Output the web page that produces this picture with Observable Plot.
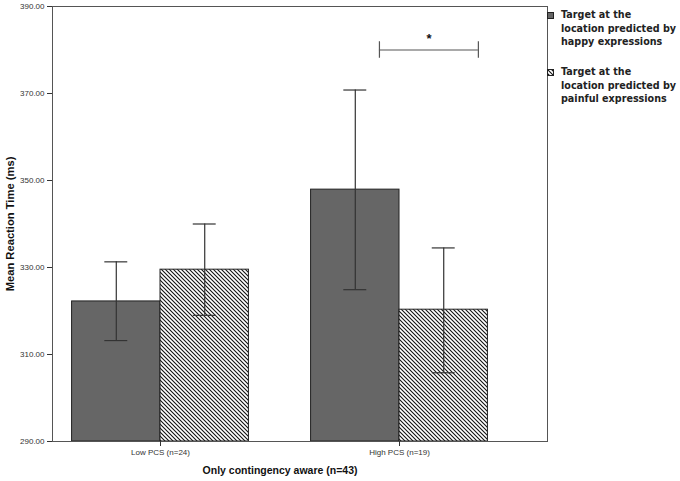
<!DOCTYPE html>
<html>
<head>
<meta charset="utf-8">
<script src="https://cdn.jsdelivr.net/npm/d3@7"></script>
<script src="https://cdn.jsdelivr.net/npm/@observablehq/plot@0.6"></script>
<style>
  body { margin: 0; background: #fff; }
  #wrap { position: relative; width: 680px; height: 481px; }
  .leg { position: absolute; left: 547px; font-family: "DejaVu Sans", Verdana, sans-serif; font-weight: bold; font-size: 9.6px; line-height: 13.5px; color: #222; }
  .leg .sw { position: absolute; left: 0; width: 7px; height: 7px; }
  .leg .tx { position: absolute; left: 14px; white-space: nowrap; }
</style>
</head>
<body>
<div id="wrap"></div>
<script>
// ---- data ----
const groups = ["Low PCS (n=24)", "High PCS (n=19)"];
const seriesNames = [
  "Target at the location predicted by happy expressions",
  "Target at the location predicted by painful expressions"
];
const legendLines = [
  ["Target at the", "location predicted by", "happy expressions"],
  ["Target at the", "location predicted by", "painful expressions"]
];
const happyMeans = [322.2, 347.9];
const painfulMeans = [329.5, 320.3];
const happyLow = [313.2, 324.9];
const happyHigh = [331.3, 370.8];
const painfulLow = [319.0, 305.8];
const painfulHigh = [340.0, 334.5];
const yTicks = [290, 310, 330, 350, 370, 390];
const yLabel = "Mean Reaction Time (ms)";
const xLabel = "Only contingency aware (n=43)";
const sigLabel = "*";
const sigValue = 380;

// ---- layout ----
const W = 0.37;          // bar width in group units
const capW = 0.048;      // half cap width
const sigX = [0.916, 1.33];

const rows = [];
groups.forEach((g, gi) => {
  rows.push({gi, si: 0, mean: happyMeans[gi], lo: happyLow[gi], hi: happyHigh[gi]});
  rows.push({gi, si: 1, mean: painfulMeans[gi], lo: painfulLow[gi], hi: painfulHigh[gi]});
});
rows.forEach(r => {
  r.x1 = r.gi + (r.si - 1) * W;
  r.x2 = r.gi + r.si * W;
  r.c = r.gi + (r.si - 0.5) * W;
});

const plot = Plot.plot({
  width: 680,
  height: 481,
  marginLeft: 52,
  marginRight: 133,
  marginTop: 6,
  marginBottom: 40,
  style: {fontFamily: "'Liberation Sans', Arial, sans-serif", background: "white", color: "#333"},
  x: {type: "linear", domain: [-0.4519, 1.6192], axis: null},
  y: {domain: [290, 390], axis: null},
  marks: [
    Plot.rectY(rows, {
      x1: "x1", x2: "x2", y1: 290, y2: "mean",
      fill: d => d.si === 0 ? "#666666" : "url(#hatch)",
      stroke: "#222", strokeWidth: 1
    }),
    Plot.ruleX(rows, {x: "c", y1: "lo", y2: "hi", stroke: "#333", strokeWidth: 1.2}),
    Plot.ruleY(rows, {y: "lo", x1: d => d.c - capW, x2: d => d.c + capW, stroke: "#333", strokeWidth: 1.2}),
    Plot.ruleY(rows, {y: "hi", x1: d => d.c - capW, x2: d => d.c + capW, stroke: "#333", strokeWidth: 1.2}),
    // significance bracket
    Plot.ruleY([sigValue], {x1: sigX[0], x2: sigX[1], stroke: "#555", strokeWidth: 1.2}),
    Plot.ruleX(sigX, {x: d => d, y1: sigValue - 1.9, y2: sigValue + 1.9, stroke: "#555", strokeWidth: 1.2}),
    Plot.text([sigLabel], {x: (sigX[0] + sigX[1]) / 2, y: sigValue, dy: -11, fontSize: 13, fontWeight: "bold", fill: "#111"}),
    Plot.frame({stroke: "#555", strokeWidth: 1}),
    Plot.axisY(yTicks, {tickFormat: d => d.toFixed(2), tickSize: 5, tickPadding: 3, fontSize: 8, label: null, stroke: "#333", fill: "#333"}),
    Plot.axisX([0, 1], {tickFormat: i => groups[i], tickSize: 5, tickPadding: 3, fontSize: 8, label: null, stroke: "#333", fill: "#333"}),
    Plot.text([yLabel], {frameAnchor: "left", rotate: -90, dx: -42, textAnchor: "middle", lineAnchor: "middle", fontSize: 11.2, fontWeight: "bold", fill: "#111"}),
    Plot.text([xLabel], {x: 0.5, frameAnchor: "bottom", dy: 29.5, lineAnchor: "middle", textAnchor: "middle", fontSize: 10.5, fontWeight: "bold", fill: "#111"})
  ]
});

// hatch pattern defs
const ns = "http://www.w3.org/2000/svg";
const defs = document.createElementNS(ns, "defs");
defs.innerHTML = `<pattern id="hatch" patternUnits="userSpaceOnUse" width="4" height="4">
  <rect width="4" height="4" fill="white"/>
  <path d="M-1,-1 L5,5 M-1,3 L1,5 M3,-1 L5,1" stroke="#111" stroke-width="1.1"/>
</pattern>`;
plot.insertBefore(defs, plot.firstChild);

const wrap = document.getElementById("wrap");
wrap.appendChild(plot);

// legend
const swatches = [
  `<svg class="sw" width="7" height="7"><rect x="0.5" y="0.5" width="6" height="6" fill="#666" stroke="#222"/></svg>`,
  `<svg class="sw" width="7" height="7"><rect x="0.5" y="0.5" width="6" height="6" fill="url(#hatch)" stroke="#222"/></svg>`
];
const tops = [8, 65];
legendLines.forEach((lines, i) => {
  const d = document.createElement("div");
  d.className = "leg";
  d.style.top = tops[i] + "px";
  d.title = seriesNames[i];
  d.innerHTML = swatches[i].replace('class="sw"', 'class="sw" style="top:4px"') +
    `<div class="tx">${lines.join("<br>")}</div>`;
  wrap.appendChild(d);
});
</script>
</body>
</html>
